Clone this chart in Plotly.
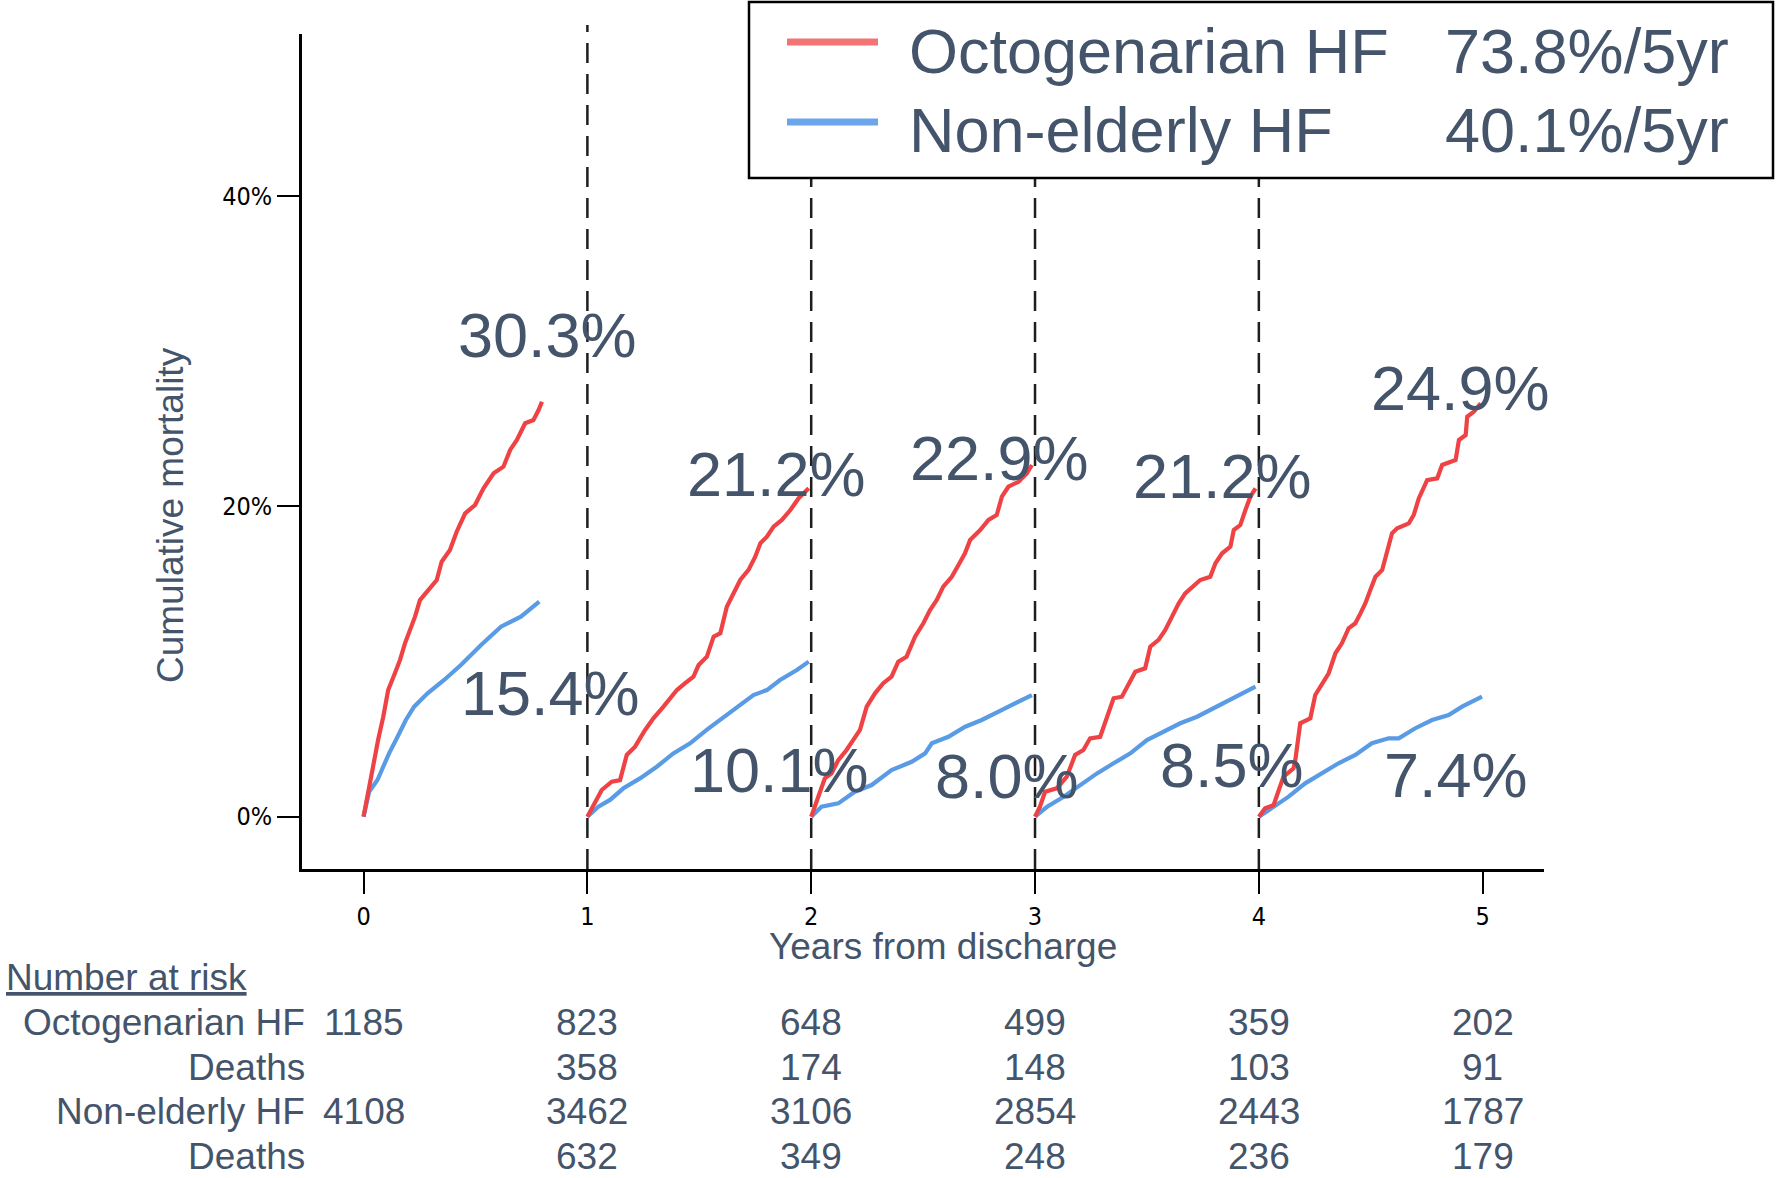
import plotly.graph_objects as go

# ---------------- data ----------------
YEARS = [0, 1, 2, 3, 4, 5]
YTICKS = [0, 20, 40]
YTICK_TEXT = ["0%", "20%", "40%"]

OCT_T = [
    [0.0, 0.021, 0.043, 0.065, 0.088, 0.110, 0.140, 0.163, 0.185, 0.207, 0.230, 0.252, 0.289, 0.327, 0.349,
     0.386, 0.416, 0.454, 0.498, 0.536, 0.581, 0.625, 0.655, 0.685, 0.722, 0.759, 0.782, 0.797],
    [1.0, 1.034, 1.064, 1.109, 1.146, 1.176, 1.213, 1.258, 1.295, 1.340, 1.370, 1.400, 1.437, 1.474, 1.497,
     1.534, 1.564, 1.594, 1.623, 1.653, 1.683, 1.720, 1.750, 1.773, 1.802, 1.832, 1.869, 1.907, 1.944, 1.989],
    [2.0, 2.024, 2.046, 2.061, 2.091, 2.121, 2.158, 2.195, 2.218, 2.248, 2.285, 2.322, 2.359, 2.389, 2.426,
     2.464, 2.501, 2.531, 2.561, 2.590, 2.628, 2.658, 2.687, 2.710, 2.755, 2.792, 2.829, 2.852, 2.881, 2.926,
     2.964, 2.986],
    [3.0, 3.022, 3.045, 3.097, 3.142, 3.179, 3.216, 3.246, 3.291, 3.321, 3.351, 3.388, 3.425, 3.448, 3.492,
     3.515, 3.552, 3.582, 3.612, 3.642, 3.671, 3.709, 3.738, 3.783, 3.806, 3.836, 3.873, 3.888, 3.917, 3.940,
     3.962, 3.985],
    [4.0, 4.028, 4.066, 4.088, 4.110, 4.155, 4.163, 4.185, 4.230, 4.252, 4.282, 4.312, 4.342, 4.371, 4.401,
     4.431, 4.454, 4.476, 4.498, 4.521, 4.551, 4.573, 4.595, 4.618, 4.670, 4.692, 4.715, 4.752, 4.797, 4.819,
     4.879, 4.894, 4.924, 4.931, 4.961, 4.991],
]
OCT_V = [
    [0.0, 1.72, 3.22, 4.94, 6.44, 8.16, 9.24, 10.10, 11.17, 12.03, 12.89, 13.96, 14.61, 15.25, 16.43,
     17.18, 18.36, 19.55, 20.08, 21.16, 22.13, 22.55, 23.63, 24.27, 25.35, 25.56, 26.20, 26.74],
    [0.0, 0.86, 1.72, 2.26, 2.36, 3.98, 4.51, 5.59, 6.34, 7.09, 7.63, 8.16, 8.60, 9.02, 9.77,
     10.31, 11.60, 11.82, 13.53, 14.39, 15.25, 15.90, 16.75, 17.62, 18.04, 18.69, 19.12, 19.76, 20.52, 21.16],
    [0.0, 0.97, 1.93, 2.47, 2.79, 3.65, 4.30, 5.15, 5.59, 7.09, 7.95, 8.60, 9.02, 9.99, 10.31,
     11.60, 12.46, 13.32, 13.96, 14.82, 15.46, 16.22, 16.97, 17.83, 18.47, 19.12, 19.44, 20.62, 21.26, 21.58,
     22.13, 22.66],
    [0.0, 0.64, 1.61, 1.83, 2.58, 3.98, 4.30, 5.05, 5.15, 6.44, 7.63, 7.73, 8.81, 9.34, 9.56,
     10.95, 11.39, 12.03, 12.89, 13.75, 14.39, 14.93, 15.25, 15.46, 16.33, 16.97, 17.40, 18.47, 18.79, 19.76,
     20.62, 21.16],
    [0.0, 0.54, 0.75, 1.72, 2.58, 3.12, 3.65, 6.02, 6.34, 7.84, 8.60, 9.24, 10.53, 11.17, 12.14,
     12.46, 13.10, 13.75, 14.61, 15.46, 15.90, 16.97, 18.26, 18.58, 18.90, 19.44, 20.52, 21.69, 21.80, 22.66,
     22.98, 24.27, 24.59, 25.77, 26.10, 26.64],
]
NON_T = [
    [0.0, 0.025, 0.062, 0.085, 0.114, 0.152, 0.189, 0.226, 0.286, 0.360, 0.435, 0.525, 0.614, 0.703, 0.785],
    [1.0, 1.049, 1.101, 1.161, 1.235, 1.310, 1.384, 1.459, 1.533, 1.593, 1.667, 1.742, 1.802, 1.861, 1.936, 1.989],
    [2.0, 2.046, 2.121, 2.195, 2.270, 2.359, 2.449, 2.509, 2.539, 2.613, 2.688, 2.762, 2.837, 2.911, 2.986],
    [3.0, 3.054, 3.128, 3.203, 3.277, 3.351, 3.426, 3.500, 3.575, 3.649, 3.724, 3.798, 3.873, 3.932, 3.985],
    [4.0, 4.058, 4.133, 4.207, 4.282, 4.356, 4.431, 4.505, 4.580, 4.625, 4.699, 4.774, 4.848, 4.908, 4.997],
]
NON_V = [
    [0.0, 1.61, 2.36, 3.12, 4.08, 5.15, 6.23, 7.09, 7.95, 8.81, 9.77, 11.06, 12.24, 12.89, 13.85],
    [0.0, 0.64, 1.08, 1.83, 2.47, 3.22, 4.08, 4.73, 5.59, 6.23, 7.09, 7.84, 8.16, 8.81, 9.45, 9.99],
    [0.0, 0.64, 0.86, 1.61, 2.04, 3.01, 3.54, 4.08, 4.73, 5.15, 5.80, 6.23, 6.77, 7.31, 7.84],
    [0.0, 0.64, 1.29, 2.04, 2.79, 3.44, 4.08, 4.94, 5.48, 6.02, 6.44, 6.98, 7.52, 7.95, 8.38],
    [0.0, 0.54, 1.29, 2.15, 2.79, 3.44, 3.98, 4.73, 5.05, 5.05, 5.70, 6.23, 6.55, 7.09, 7.73],
]

OCT_YEAR_LABELS = ["30.3%", "21.2%", "22.9%", "21.2%", "24.9%"]
NON_YEAR_LABELS = ["15.4%", "10.1%", "8.0%", "8.5%", "7.4%"]

SERIES_NAMES = ["Octogenarian HF", "Non-elderly HF"]
SERIES_5YR = ["73.8%/5yr", "40.1%/5yr"]

OCT_RISK = [1185, 823, 648, 499, 359, 202]
OCT_DEATHS = [None, 358, 174, 148, 103, 91]
NON_RISK = [4108, 3462, 3106, 2854, 2443, 1787]
NON_DEATHS = [None, 632, 349, 248, 236, 179]

# ---------------- style / layout ----------------
W, H = 1776, 1178
PL, PR, PT, PB = 302, 1544, 34, 869        # plot area in pixels
XR = [-0.275, 5.274]
YR = [-3.37, 50.43]

RED = "#EE4245"
BLUE = "#5A9BE6"
RED_LEG = "#F27474"
BLUE_LEG = "#6CA6EA"
TXT = "#44546A"
FONT = "Liberation Sans, Arial, Helvetica, sans-serif"
TICKFONT = "Liberation Sans Narrow, Arial Narrow, DejaVu Sans Condensed, Liberation Sans, Arial, sans-serif"


def px_x(p):
    return (p - PL) / (PR - PL)


def px_y(p):
    return (PB - p) / (PB - PT)


def joined(ts, vs):
    xs, ys = [], []
    for t, v in zip(ts, vs):
        xs += list(t) + [None]
        ys += list(v) + [None]
    return xs, ys


fig = go.Figure()
for (ts, vs), col in (((NON_T, NON_V), BLUE), ((OCT_T, OCT_V), RED)):
    xs, ys = joined(ts, vs)
    fig.add_trace(go.Scatter(x=xs, y=ys, mode="lines", connectgaps=False,
                             line=dict(color=col, width=4.2), showlegend=False, hoverinfo="skip"))

shapes = []
for yr in YEARS[1:5]:
    shapes.append(dict(type="line", xref="x", yref="paper", x0=yr, x1=yr, y0=0, y1=px_y(25),
                       line=dict(color="#1e1e1e", width=2.5, dash="20px,11px")))
# legend box
shapes.append(dict(type="rect", xref="paper", yref="paper", x0=px_x(749), x1=px_x(1773),
                   y0=px_y(178), y1=px_y(2), fillcolor="white", line=dict(color="black", width=2.5)))
leg_line_y = [42, 122]
for yy, col in zip(leg_line_y, [RED_LEG, BLUE_LEG]):
    shapes.append(dict(type="line", xref="paper", yref="paper", x0=px_x(787), x1=px_x(878),
                       y0=px_y(yy), y1=px_y(yy), line=dict(color=col, width=7)))

ann = []
big = dict(family=FONT, size=63, color=TXT)
OCT_LABEL_POS = [(0.824, 31.05), (1.847, 22.1), (2.840, 23.1), (3.836, 21.95), (4.899, 27.65)]
NON_LABEL_POS = [(0.835, 7.95), (1.857, 3.0), (2.875, 2.6), (3.881, 3.3), (4.879, 2.7)]
for lab, (x, y) in zip(OCT_YEAR_LABELS, OCT_LABEL_POS):
    ann.append(dict(x=x, y=y, xref="x", yref="y", text=lab, showarrow=False, font=big,
                    xanchor="center", yanchor="middle"))
for lab, (x, y) in zip(NON_YEAR_LABELS, NON_LABEL_POS):
    ann.append(dict(x=x, y=y, xref="x", yref="y", text=lab, showarrow=False, font=big,
                    xanchor="center", yanchor="middle"))

# legend text
leg_text_y = [51, 130]
for yy, name, tot in zip(leg_text_y, SERIES_NAMES, SERIES_5YR):
    ann.append(dict(x=px_x(907), y=px_y(yy), xref="paper", yref="paper", text=name, showarrow=False,
                    font=big, xanchor="left", yanchor="middle"))
    ann.append(dict(x=px_x(1731), y=px_y(yy), xref="paper", yref="paper", text=tot, showarrow=False,
                    font=big, xanchor="right", yanchor="middle"))

mid = dict(family=FONT, size=37, color=TXT)
# axis titles
ann.append(dict(x=px_x(170), y=px_y(515), xref="paper", yref="paper", text="Cumulative mortality",
                textangle=-90, showarrow=False, font=mid, xanchor="center", yanchor="middle"))
ann.append(dict(x=px_x(943), y=px_y(946), xref="paper", yref="paper", text="Years from discharge",
                showarrow=False, font=mid, xanchor="center", yanchor="middle"))

# number at risk table
ann.append(dict(x=px_x(4), y=px_y(977), xref="paper", yref="paper", text="<u>Number at risk</u>",
                showarrow=False, font=mid, xanchor="left", yanchor="middle"))
row_labels = [SERIES_NAMES[0], "Deaths", SERIES_NAMES[1], "Deaths"]
row_vals = [OCT_RISK, OCT_DEATHS, NON_RISK, NON_DEATHS]
row_y = [1022, 1067, 1111, 1156]
for lab, vals, yy in zip(row_labels, row_vals, row_y):
    ann.append(dict(x=px_x(307), y=px_y(yy), xref="paper", yref="paper", text=lab, showarrow=False,
                    font=mid, xanchor="right", yanchor="middle"))
    for yr, v in zip(YEARS, vals):
        if v is None:
            continue
        ann.append(dict(x=yr, y=px_y(yy), xref="x", yref="paper", text=str(v), showarrow=False,
                        font=mid, xanchor="center", yanchor="middle"))

fig.update_layout(
    width=W, height=H,
    margin=dict(l=PL, r=W - PR, t=PT, b=H - PB, pad=0),
    paper_bgcolor="white", plot_bgcolor="white",
    showlegend=False,
    shapes=shapes, annotations=ann,
    font=dict(family=FONT, color=TXT),
)
fig.update_xaxes(range=XR, tickvals=YEARS, ticktext=[str(y) for y in YEARS], showgrid=False, zeroline=False,
                 showline=True, linecolor="black", linewidth=2.5, ticks="outside", ticklen=22, tickwidth=2,
                 tickcolor="black", tickfont=dict(family=TICKFONT, size=25, color="black"),
                 ticklabelstandoff=1, fixedrange=True)
fig.update_yaxes(range=YR, tickvals=YTICKS, ticktext=YTICK_TEXT, showgrid=False, zeroline=False,
                 showline=True, linecolor="black", linewidth=2.5, ticks="outside", ticklen=22, tickwidth=2,
                 tickcolor="black", tickfont=dict(family=TICKFONT, size=25, color="black"),
                 ticklabelstandoff=0, fixedrange=True)

fig.write_html("out.html")
